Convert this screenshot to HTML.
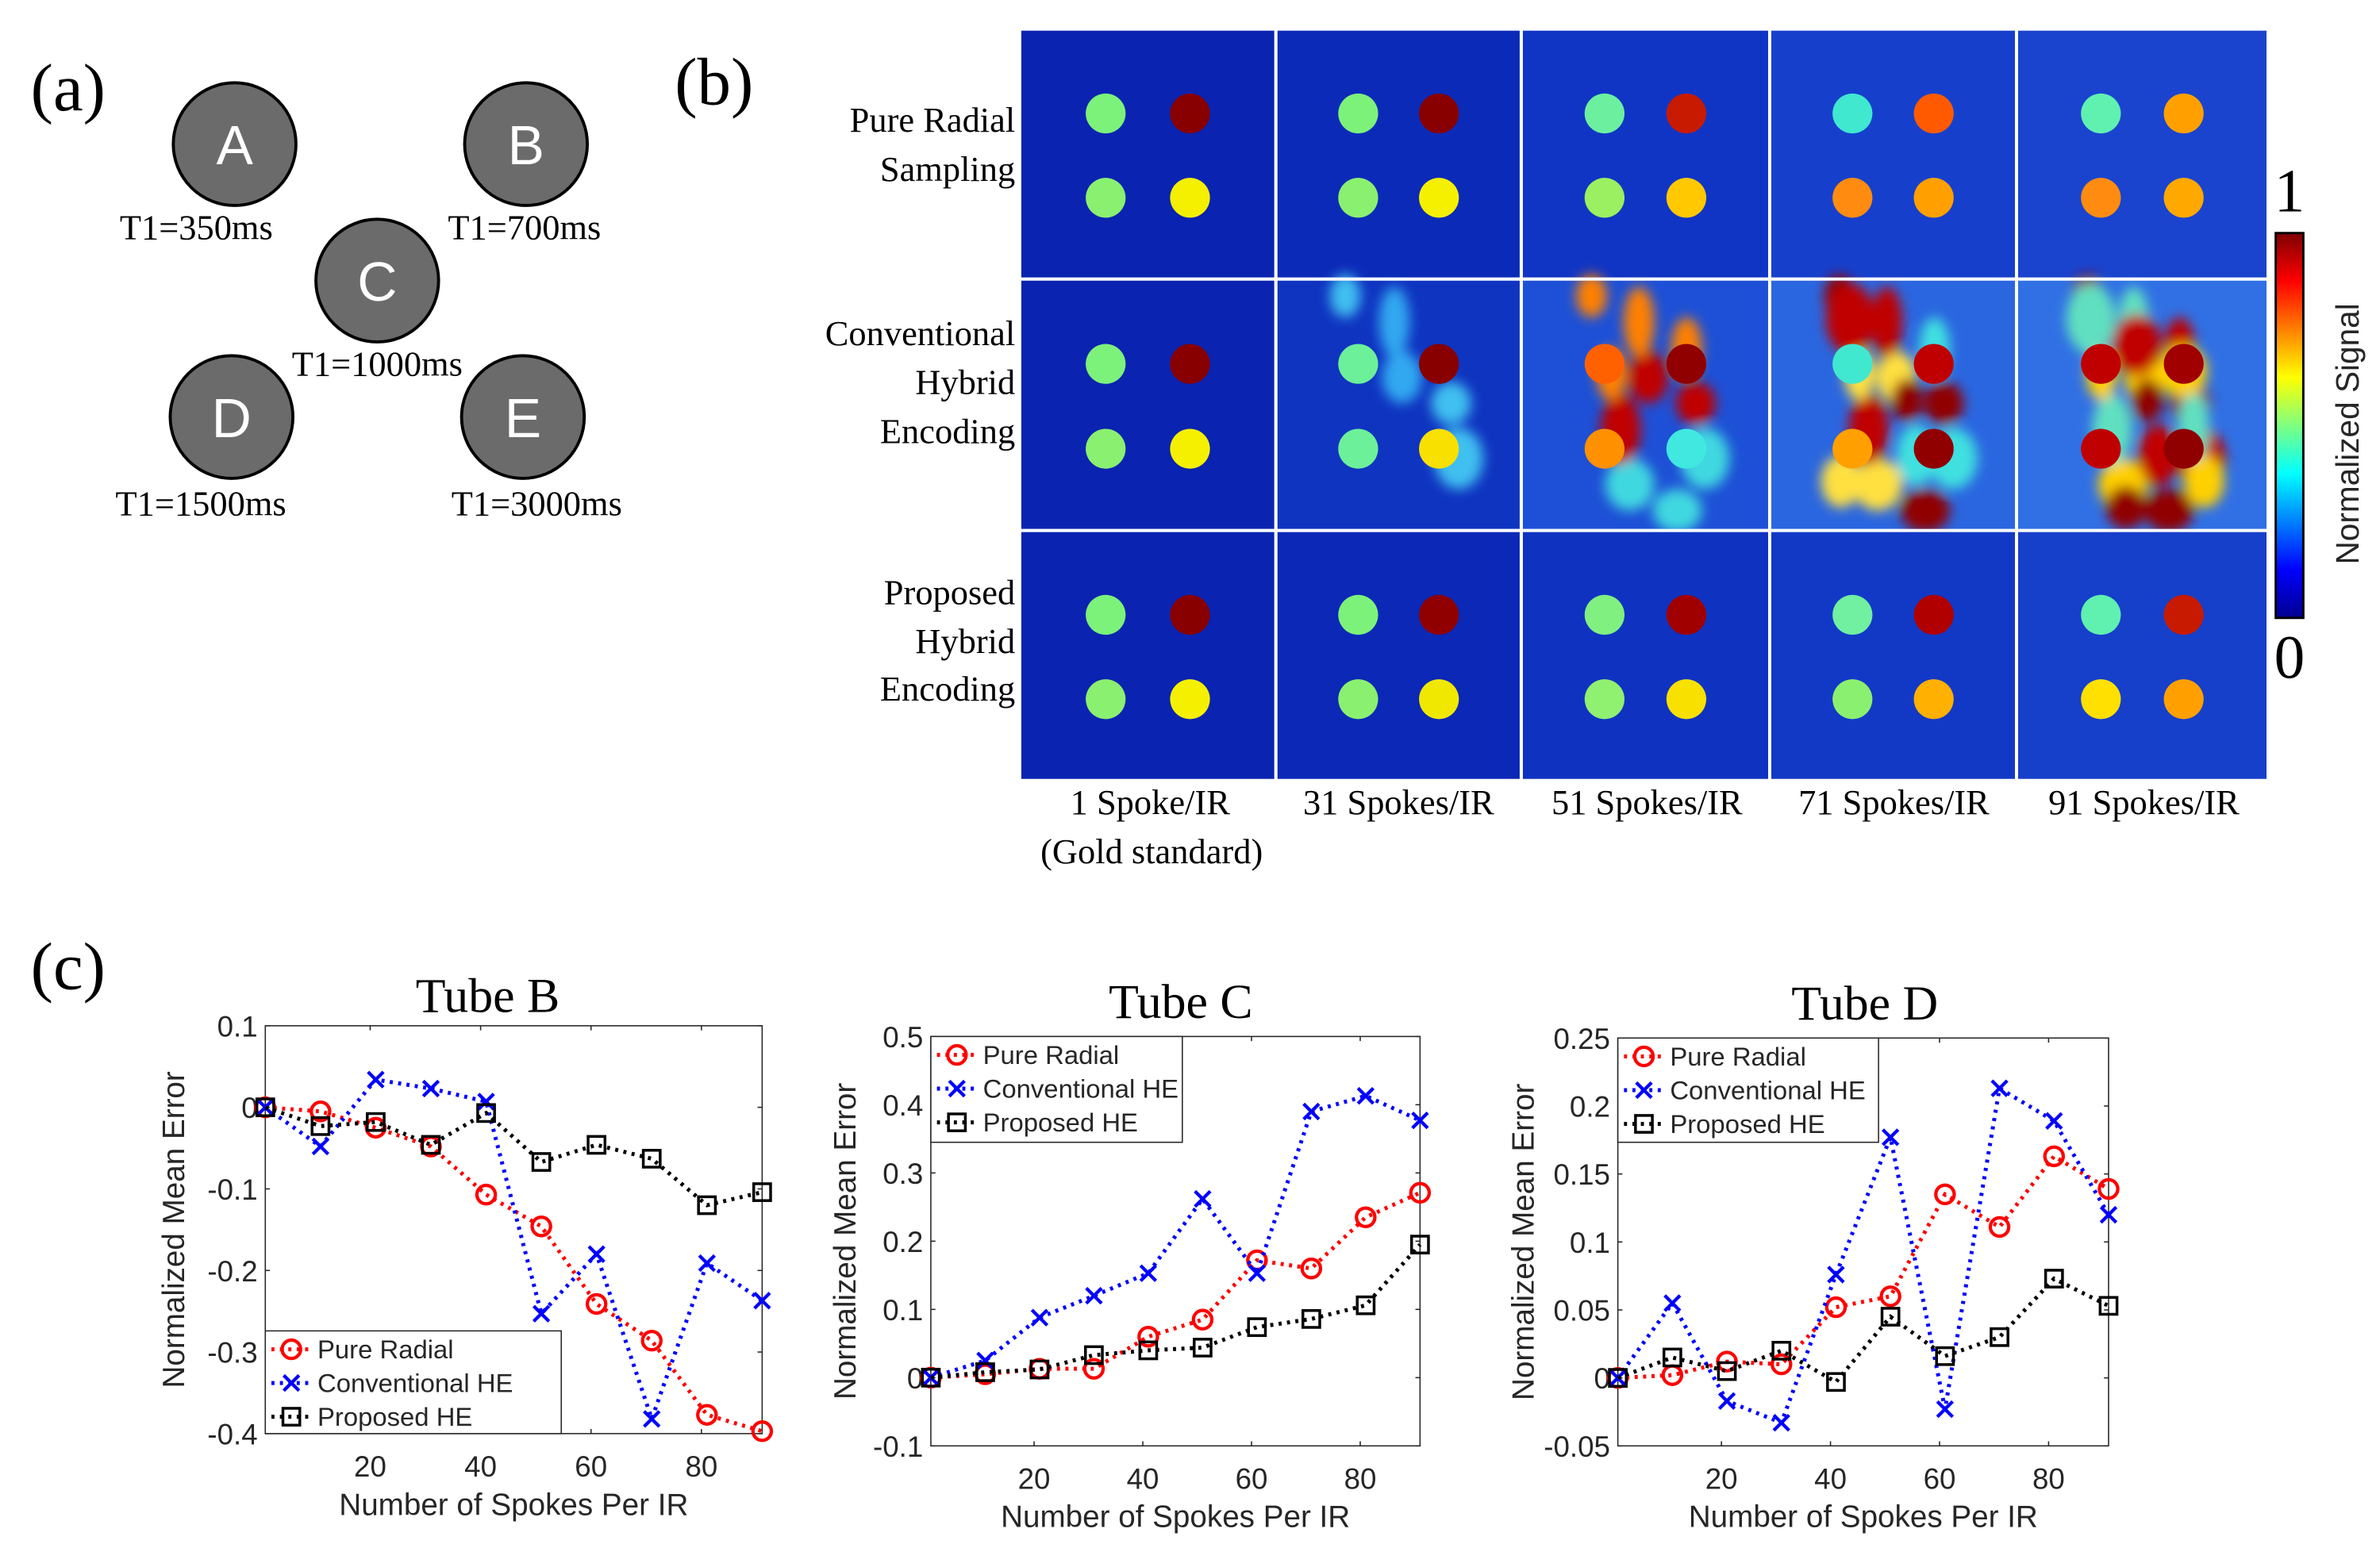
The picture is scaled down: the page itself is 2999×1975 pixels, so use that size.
<!DOCTYPE html>
<html><head><meta charset="utf-8"><style>
html,body{margin:0;padding:0;background:#fff;}
svg{display:block;}
.serif{font-family:"Liberation Serif",serif;fill:#000;}
.sans{font-family:"Liberation Sans",sans-serif;fill:#262626;}
</style></head><body>
<svg id="fig" width="2999" height="1975" viewBox="0 0 1552 1022" preserveAspectRatio="none" xmlns="http://www.w3.org/2000/svg">
<defs>
<linearGradient id="jet" x1="0" y1="1" x2="0" y2="0">
<stop offset="0" stop-color="#00008f"/><stop offset="0.125" stop-color="#0000ff"/><stop offset="0.375" stop-color="#00ffff"/><stop offset="0.625" stop-color="#ffff00"/><stop offset="0.875" stop-color="#ff0000"/><stop offset="1" stop-color="#800000"/>
</linearGradient>
<filter id="blur3"><feGaussianBlur stdDeviation="4"/></filter>
</defs>
<g>
<text class="serif" x="20" y="72" font-size="44">(a)</text>
<g><circle cx="153" cy="94" r="40" fill="#6b6b6b" stroke="#000" stroke-width="2"/><text x="153" y="107" text-anchor="middle" font-size="36" fill="#fff" font-family="Liberation Sans,sans-serif">A</text></g>
<g><circle cx="343" cy="94" r="40" fill="#6b6b6b" stroke="#000" stroke-width="2"/><text x="343" y="107" text-anchor="middle" font-size="36" fill="#fff" font-family="Liberation Sans,sans-serif">B</text></g>
<g><circle cx="246" cy="183" r="40" fill="#6b6b6b" stroke="#000" stroke-width="2"/><text x="246" y="196" text-anchor="middle" font-size="36" fill="#fff" font-family="Liberation Sans,sans-serif">C</text></g>
<g><circle cx="151" cy="272" r="40" fill="#6b6b6b" stroke="#000" stroke-width="2"/><text x="151" y="285" text-anchor="middle" font-size="36" fill="#fff" font-family="Liberation Sans,sans-serif">D</text></g>
<g><circle cx="341" cy="272" r="40" fill="#6b6b6b" stroke="#000" stroke-width="2"/><text x="341" y="285" text-anchor="middle" font-size="36" fill="#fff" font-family="Liberation Sans,sans-serif">E</text></g>
<text class="serif" x="128" y="156" font-size="23" text-anchor="middle">T1=350ms</text>
<text class="serif" x="342" y="156" font-size="23" text-anchor="middle">T1=700ms</text>
<text class="serif" x="246" y="245" font-size="23" text-anchor="middle">T1=1000ms</text>
<text class="serif" x="131" y="336" font-size="23" text-anchor="middle">T1=1500ms</text>
<text class="serif" x="350" y="336" font-size="23" text-anchor="middle">T1=3000ms</text>
</g>
<g>
<text class="serif" x="440" y="68" font-size="44">(b)</text>
<g id="grid"></g>
<text class="serif" x="662" y="86" font-size="23" text-anchor="end">Pure Radial</text>
<text class="serif" x="662" y="118" font-size="23" text-anchor="end">Sampling</text>
<text class="serif" x="662" y="225" font-size="23" text-anchor="end">Conventional</text>
<text class="serif" x="662" y="257" font-size="23" text-anchor="end">Hybrid</text>
<text class="serif" x="662" y="289" font-size="23" text-anchor="end">Encoding</text>
<text class="serif" x="662" y="394" font-size="23" text-anchor="end">Proposed</text>
<text class="serif" x="662" y="426" font-size="23" text-anchor="end">Hybrid</text>
<text class="serif" x="662" y="457" font-size="23" text-anchor="end">Encoding</text>
<text class="serif" x="750" y="531" font-size="23" text-anchor="middle">1 Spoke/IR</text>
<text class="serif" x="751" y="563" font-size="23" text-anchor="middle">(Gold standard)</text>
<text class="serif" x="912" y="531" font-size="23" text-anchor="middle">31 Spokes/IR</text>
<text class="serif" x="1074" y="531" font-size="23" text-anchor="middle">51 Spokes/IR</text>
<text class="serif" x="1235" y="531" font-size="23" text-anchor="middle">71 Spokes/IR</text>
<text class="serif" x="1398" y="531" font-size="23" text-anchor="middle">91 Spokes/IR</text>
<rect x="1484" y="152" width="18" height="251" fill="url(#jet)" stroke="#000" stroke-width="1.5"/>
<text class="serif" x="1493" y="138" font-size="40" text-anchor="middle">1</text>
<text class="serif" x="1493" y="442" font-size="40" text-anchor="middle">0</text>
<text class="sans" transform="translate(1538,283) rotate(-90)" font-size="21" text-anchor="middle">Normalized Signal</text>
</g>
<text class="serif" x="20" y="645" font-size="44">(c)</text>
<g id="charts"></g>
</svg>
<script>
const NS='http://www.w3.org/2000/svg';
function mk(tag,attrs,parent){const e=document.createElementNS(NS,tag);for(const k in attrs)e.setAttribute(k,attrs[k]);if(parent)parent.appendChild(e);return e;}

const grid=document.getElementById('grid');
const colX=[666,833,993,1155,1316], colW=[165,158,160,159,162];
const rowY=[20,183,347], rowH=[161,162,161];
const bgs=[["#0a23b0","#0c2ab8","#1035c4","#1640cc","#1a44ce"],["#0a23b0","#0f34c0","#1d50d6","#2a66e0","#3070e4"],["#0a23b0","#0b28b6","#0f33c0","#1239c6","#163fca"]];
const tubes=[["#7cf27a","#880000","#8af070","#f5f000"],["#7cf27a","#880000","#8af070","#f5f000"],["#6cf0a0","#c81a00","#9af060","#ffc800"],["#40e8d0","#ff5a00","#ff8c10","#ffa000"],["#60f0b0","#ffa000","#ff8c10","#ffa800"]];
const tubesP=[["#7cf27a","#880000","#8af070","#f5f000"],["#7cf27a","#900000","#8af070","#f0e800"],["#80f080","#a00000","#90f070","#f8e000"],["#70f0a0","#b00000","#8af070","#ffb000"],["#60f0b0","#c81a00","#ffe000","#ffa000"]];
const tubesC=[["#7cf27a","#880000","#8af070","#f5f000"],["#6cf09a","#880000","#6cf09a","#f8e000"],["#ff6000","#900000","#ff9000","#40e8e0"],["#40e8d0","#c00000","#ffa000","#900000"],["#c00000","#a00000","#c00000","#900000"]];
for(let r=0;r<3;r++)for(let c=0;c<5;c++){
  const g=mk('g',{},grid);
  
  
  const x=colX[c],y=rowY[r],w=colW[c],h=rowH[r];
  mk('rect',{x:x,y:y,width:w,height:h,fill:bgs[r][c]},g);
  if(r===1&&c>0){
    const bl=mk('g',{filter:'url(#blur3)'},g);
    const n=[0,5,10,14,18][c];
    const cols=c===1?['#40c0f0','#30a8f0']:c===2?['#ff8000','#c00000','#40d8e0']:c===3?['#900000','#ffe040','#40e0e0','#c00000']:['#900000','#ffd000','#c00000','#60e0c0'];
    for(let i=0;i<n;i++){
      const bx=x+w*0.28+((i*37)%Math.round(w*0.5)),by=y+10+((i*53)%(h-20));
      mk('ellipse',{cx:bx,cy:by,rx:10+(i%3)*3,ry:14+(i%4)*3,fill:cols[i%cols.length]},bl);
    }
  }
  const set=r===0?tubes[c]:(r===1?tubesC[c]:tubesP[c]);
  const pos=[[55,54],[110,54],[55,109],[110,109]];
  pos.forEach((p,i)=>mk('ellipse',{cx:x+p[0]*w/165,cy:y+p[1]*h/161,rx:13,ry:13,fill:set[i]},g));
}
const seps=mk('g',{},grid);
[832,992,1154,1315].forEach(v=>mk('rect',{x:v-1,y:20,width:2,height:488,fill:'#fff'},seps));
[182,346].forEach(v=>mk('rect',{x:666,y:v-1,width:812,height:2,fill:'#fff'},seps));

const spokes=[1,11,21,31,41,51,61,71,81,91];
const seriesNames=["Pure Radial","Conventional HE","Proposed HE"];
const tubeBPure=[0,-0.005,-0.025,-0.048,-0.107,-0.146,-0.241,-0.286,-0.377,-0.397];
const tubeBConv=[0,-0.048,0.034,0.023,0.007,-0.253,-0.180,-0.382,-0.191,-0.237];
const tubeBProp=[0,-0.023,-0.018,-0.046,-0.007,-0.067,-0.046,-0.063,-0.120,-0.104];
const tubeCPure=[0,0.005,0.013,0.013,0.060,0.085,0.172,0.160,0.235,0.271];
const tubeCConv=[0,0.025,0.088,0.120,0.153,0.262,0.153,0.390,0.413,0.377];
const tubeCProp=[0,0.008,0.012,0.033,0.040,0.044,0.074,0.086,0.106,0.195];
const tubeDPure=[0,0.002,0.012,0.010,0.052,0.060,0.135,0.111,0.163,0.139];
const tubeDConv=[0,0.055,-0.017,-0.033,0.076,0.177,-0.023,0.213,0.189,0.120];
const tubeDProp=[0,0.015,0.005,0.020,-0.003,0.045,0.016,0.030,0.073,0.053];
const xTicks=[20,40,60,80];
const tubeBTicks=[0.1,0,-0.1,-0.2,-0.3,-0.4];
const tubeBTickLabels=["0.1","0","-0.1","-0.2","-0.3","-0.4"];
const tubeCTicks=[0.5,0.4,0.3,0.2,0.1,0,-0.1];
const tubeCTickLabels=["0.5","0.4","0.3","0.2","0.1","0","-0.1"];
const tubeDTicks=[0.25,0.2,0.15,0.1,0.05,0,-0.05];
const tubeDTickLabels=["0.25","0.2","0.15","0.1","0.05","0","-0.05"];

const charts=[
 {id:'tube-b',title:'Tube B',L:173,R:497,T:669,B:935,ymin:-0.4,ymax:0.1,ticks:tubeBTicks,labels:tubeBTickLabels,data:[tubeBPure,tubeBConv,tubeBProp],leg:[173,868,193,67],ylx:120,titleY:660,titleX:318},
 {id:'tube-c',title:'Tube C',L:607,R:926,T:676,B:943,ymin:-0.1,ymax:0.5,ticks:tubeCTicks,labels:tubeCTickLabels,data:[tubeCPure,tubeCConv,tubeCProp],leg:[607,676,164,69],ylx:558,titleY:664,titleX:770},
 {id:'tube-d',title:'Tube D',L:1055,R:1375,T:677,B:943,ymin:-0.05,ymax:0.25,ticks:tubeDTicks,labels:tubeDTickLabels,data:[tubeDPure,tubeDConv,tubeDProp],leg:[1055,677,170,68],ylx:1000,titleY:665,titleX:1216}
];
const colors=['#ff0000','#0000ff','#000000'];
const root=document.getElementById('charts');
function marker(g,k,x,y,s){
  if(k===0)return mk('circle',{cx:x,cy:y,r:6*s,fill:'none',stroke:colors[0],'stroke-width':2.2},g);
  if(k===1)return mk('path',{d:`M${x-5*s},${y-5*s}L${x+5*s},${y+5*s}M${x-5*s},${y+5*s}L${x+5*s},${y-5*s}`,stroke:colors[1],'stroke-width':2.2,fill:'none'},g);
  return mk('rect',{x:x-5.5*s,y:y-5.5*s,width:11*s,height:11*s,fill:'none',stroke:colors[2],'stroke-width':1.8},g);
}
charts.forEach(ch=>{
  const g=mk('g',{},root);
  
  
  const xs=v=>ch.L+(v-1)/(91-1)*(ch.R-ch.L);
  const ys=v=>ch.B-(v-ch.ymin)/(ch.ymax-ch.ymin)*(ch.B-ch.T);
  const ax=mk('rect',{x:ch.L,y:ch.T,width:ch.R-ch.L,height:ch.B-ch.T,fill:'#fff',stroke:'#262626','stroke-width':0.8},g);
  
  
  xTicks.forEach(t=>{
    const x=xs(t);
    mk('line',{x1:x,y1:ch.B,x2:x,y2:ch.B-3,stroke:'#262626','stroke-width':0.8},g);
    mk('line',{x1:x,y1:ch.T,x2:x,y2:ch.T+3,stroke:'#262626','stroke-width':0.8},g);
    const tl=mk('text',{x:x,y:ch.B+28,'text-anchor':'middle','font-size':19,class:'sans'},g);tl.textContent=t;
    
    
  });
  ch.ticks.forEach((t,i)=>{
    const y=ys(t);
    mk('line',{x1:ch.L,y1:y,x2:ch.L+3,y2:y,stroke:'#262626','stroke-width':0.8},g);
    mk('line',{x1:ch.R,y1:y,x2:ch.R-3,y2:y,stroke:'#262626','stroke-width':0.8},g);
    const tl=mk('text',{x:ch.L-5,y:y+7,'text-anchor':'end','font-size':19,class:'sans'},g);tl.textContent=ch.labels[i];
    
    
  });
  const ti=mk('text',{x:ch.titleX,y:ch.titleY,'text-anchor':'middle','font-size':32,class:'serif'},g);ti.textContent=ch.title;
  
  
  const xl=mk('text',{x:(ch.L+ch.R)/2,y:ch.B+53,'text-anchor':'middle','font-size':20,class:'sans'},g);xl.textContent='Number of Spokes Per IR';
  
  
  const yl=mk('text',{transform:`translate(${ch.ylx},${(ch.T+ch.B)/2}) rotate(-90)`,'text-anchor':'middle','font-size':20,class:'sans'},g);yl.textContent='Normalized Mean Error';
  
  
  const lg=mk('g',{},g);
  
  
  ch.data.forEach((vals,k)=>{
    const sg=mk('g',{},g);
    
    
    const pts=vals.map((v,i)=>xs(spokes[i])+','+ys(v)).join(' ');
    mk('polyline',{points:pts,fill:'none',stroke:colors[k],'stroke-width':2.6,'stroke-dasharray':'2 3.5'},sg);
    vals.forEach((v,i)=>{const m=marker(sg,k,xs(spokes[i]),ys(v),1);
      
      });
  });
  g.appendChild(lg);
  const [lx,ly,lw,lh]=ch.leg;
  mk('rect',{x:lx,y:ly,width:lw,height:lh,fill:'#fff',stroke:'#262626','stroke-width':0.8},lg);
  seriesNames.forEach((n,k)=>{
    const yy=ly+12+k*22;
    const e=mk('g',{},lg);
    
    
    mk('line',{x1:lx+4,y1:yy,x2:lx+30,y2:yy,stroke:colors[k],'stroke-width':2.6,'stroke-dasharray':'2 3.5'},e);
    marker(e,k,lx+17,yy,1);
    const t=mk('text',{x:lx+34,y:yy+6,'font-size':17,class:'sans'},e);t.textContent=n;
  });
});
</script>
</body></html>
